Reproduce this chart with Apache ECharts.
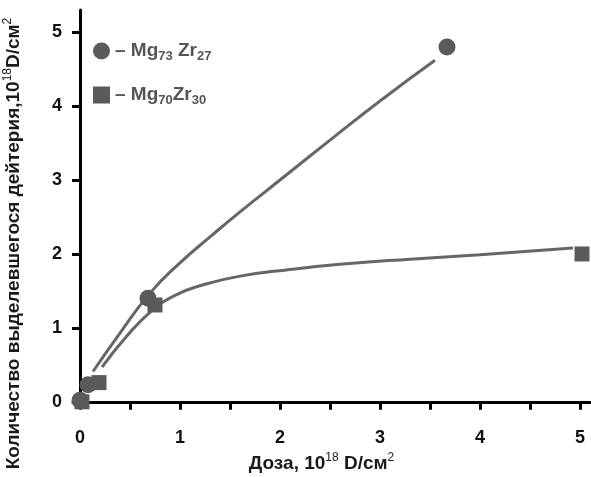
<!DOCTYPE html>
<html>
<head>
<meta charset="utf-8">
<script src="https://cdn.jsdelivr.net/npm/echarts@6/dist/echarts.min.js"></script>
<style>
  html, body { margin: 0; padding: 0; background: #fff; }
  #chart { width: 591px; height: 477px; }
</style>
</head>
<body>
<div id="chart"></div>
<script>
// measured points (dose, released deuterium), 10^18 D/cm^2
var mg73Points = [[0.0, 0.02], [0.08, 0.23], [0.68, 1.4], [3.67, 4.8]]
var mg70Points = [[0.02, 0.0], [0.19, 0.26], [0.75, 1.31], [5.02, 2.0]]
// fitted curves
var mg73Curve = [[0.13, 0.41], [0.4, 0.93], [0.7, 1.47], [1.0, 1.88], [1.3, 2.23], [1.6, 2.57], [2.0, 3.0], [2.5, 3.54], [3.0, 4.07], [3.55, 4.62]]
var mg70Curve = [[0.22, 0.47], [0.45, 0.86], [0.7, 1.21], [0.95, 1.44], [1.25, 1.59], [1.6, 1.7], [2.1, 1.79], [2.6, 1.86], [3.3, 1.93], [4.0, 1.99], [4.93, 2.08]]
var xTicks = [0, 0.5, 1, 1.5, 2, 2.5, 3, 3.5, 4, 4.5, 5]
var xLabels = [0, 1, 2, 3, 4, 5]
var yTicks = [0, 1, 2, 3, 4, 5]

var markColor = '#5a5a5a'
var lineColor = '#666666'
var font = 'Liberation Sans, Arial, sans-serif'

var legendRich = {
  b: { fontFamily: font, fontSize: 19, fontWeight: 'bold', color: '#555', lineHeight: 24 },
  s: { fontFamily: font, fontSize: 13, fontWeight: 'bold', color: '#555', lineHeight: 24, padding: [11, 0, 0, 0] }
}
var nameRich = {
  t: { fontFamily: font, fontSize: 19, fontWeight: 'bold', color: '#1a1a1a' },
  sup: { fontFamily: font, fontSize: 12, color: '#1a1a1a', padding: [0, 0, 12, 0] }
}

var chart = echarts.init(document.getElementById('chart'))
chart.setOption({
  animation: false,
  grid: { left: 73, right: 1, top: 10, bottom: 70, outerBoundsMode: 'none', containLabel: false },
  legend: {
    orient: 'vertical',
    left: 88,
    top: 34,
    itemGap: 20,
    itemWidth: 17,
    itemHeight: 17,
    data: [
      { name: 'Mg73Zr27', icon: 'circle' },
      { name: 'Mg70Zr30', icon: 'rect' }
    ],
    formatter: function (name) {
      if (name === 'Mg73Zr27') return '{b|– Mg}{s|73}{b| Zr}{s|27}'
      return '{b|– Mg}{s|70}{b|Zr}{s|30}'
    },
    textStyle: { rich: legendRich }
  },
  xAxis: {
    type: 'value',
    min: -0.07,
    max: 5.1,
    name: '{t|Доза, 10}{sup|18}{t| D/см}{sup|2}',
    nameLocation: 'middle',
    nameGap: 42,
    nameTextStyle: { rich: nameRich, padding: [0, 20, 0, 0] },
    splitLine: { show: false },
    axisLine: { lineStyle: { color: '#000', width: 3 } },
    axisTick: { customValues: xTicks, length: 8, lineStyle: { color: '#000', width: 3 } },
    axisLabel: {
      customValues: xLabels,
      margin: 22,
      fontFamily: font,
      fontSize: 18,
      fontWeight: 'bold',
      color: '#111'
    }
  },
  yAxis: {
    type: 'value',
    min: -0.07,
    max: 5.3,
    name: '{t|Количество выделевшегося дейтерия,10}{sup|18}{t|D/см}{sup|2}',
    nameLocation: 'middle',
    nameGap: 47,
    nameRotate: 90,
    nameTextStyle: { rich: nameRich, padding: [0, 70, 0, 0] },
    splitLine: { show: false },
    axisLine: { lineStyle: { color: '#000', width: 3 } },
    axisTick: { customValues: yTicks, length: 8, lineStyle: { color: '#000', width: 3 } },
    axisLabel: {
      customValues: yTicks,
      margin: 11,
      fontFamily: font,
      fontSize: 18,
      fontWeight: 'bold',
      color: '#111'
    }
  },
  series: [
    {
      name: 'fit73',
      type: 'line',
      smooth: 0.5,
      symbol: 'none',
      data: mg73Curve,
      lineStyle: { color: lineColor, width: 3 },
      z: 2
    },
    {
      name: 'fit70',
      type: 'line',
      smooth: 0.5,
      symbol: 'none',
      data: mg70Curve,
      lineStyle: { color: lineColor, width: 3 },
      z: 2
    },
    {
      name: 'Mg73Zr27',
      type: 'scatter',
      symbol: 'circle',
      symbolSize: 17,
      data: mg73Points,
      itemStyle: { color: markColor, opacity: 1 },
      z: 3
    },
    {
      name: 'Mg70Zr30',
      type: 'scatter',
      symbol: 'rect',
      symbolSize: 15,
      data: mg70Points,
      itemStyle: { color: markColor, opacity: 1 },
      z: 3
    }
  ]
})
</script>
</body>
</html>
